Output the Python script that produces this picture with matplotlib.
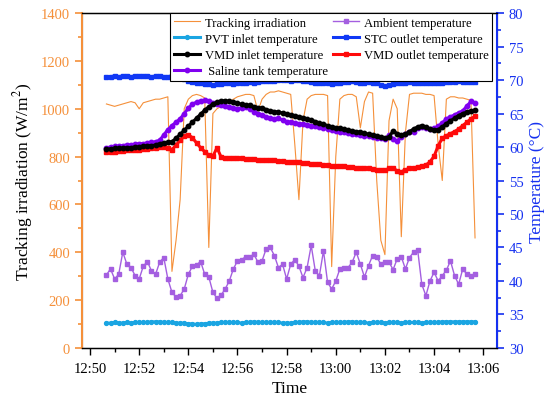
import matplotlib
matplotlib.use('Agg')
import matplotlib.pyplot as plt
import matplotlib.dates as mdates
from matplotlib.ticker import MultipleLocator
import pandas as pd

plt.rcParams['font.family'] = ['Liberation Serif', 'DejaVu Serif']
plt.rcParams['mathtext.fontset'] = 'stix'

# sampled every 10 s from 12:50:40 to 13:05:40
times = pd.date_range('2019-01-01 12:50:40', periods=91, freq='10s')

irradiation = [1020, 1015, 1010, 1015, 1020, 1025, 1030, 1025, 1000, 1025,
               1030, 1035, 1040, 1040, 1045, 1050, 320, 450, 620, 1000,
               1040, 1055, 1060, 1055, 1045, 420, 980, 1000, 1010, 1020,
               1030, 1040, 1050, 1055, 1060, 1060, 1055, 990, 1040, 1060,
               1070, 1070, 1075, 1070, 1065, 1060, 850, 620, 950, 1040,
               1055, 1060, 1060, 1060, 1055, 340, 800, 1040, 1055, 1060,
               1060, 1050, 920, 1030, 1070, 1065, 700, 450, 390, 950,
               1040, 1000, 465, 900, 1060, 1065, 1065, 1065, 1060, 1060,
               1055, 850, 700, 1040, 1050, 1050, 1045, 1045, 1040, 1035,
               460]

pvt_inlet = [33.7, 33.7, 33.8, 33.7, 33.7, 33.8, 33.7, 33.8, 33.8, 33.8,
             33.8, 33.9, 33.9, 33.9, 33.8, 33.8, 33.8, 33.7, 33.7, 33.7,
             33.6, 33.6, 33.5, 33.6, 33.6, 33.7, 33.7, 33.7, 33.8, 33.8,
             33.8, 33.8, 33.8, 33.7, 33.8, 33.8, 33.9, 33.8, 33.8, 33.8,
             33.8, 33.8, 33.8, 33.7, 33.7, 33.7, 33.8, 33.8, 33.9, 33.9,
             33.8, 33.8, 33.8, 33.8, 33.7, 33.8, 33.8, 33.8, 33.8, 33.9,
             33.9, 33.8, 33.8, 33.8, 33.7, 33.8, 33.8, 33.8, 33.7, 33.8,
             33.8, 33.8, 33.7, 33.8, 33.8, 33.8, 33.8, 33.7, 33.8, 33.8,
             33.8, 33.8, 33.9, 33.9, 33.9, 33.9, 33.9, 33.9, 33.9, 33.9,
             33.9]

vmd_inlet = [59.7, 59.7, 59.8, 59.8, 59.8, 59.9, 59.9, 60.0, 60.0, 60.1,
             60.2, 60.2, 60.3, 60.5, 60.6, 60.7, 60.8, 61.3, 61.9, 62.5,
             63.1, 63.7, 64.3, 64.9, 65.5, 66.0, 66.4, 66.7, 66.9, 66.9,
             66.8, 66.7, 66.5, 66.4, 66.3, 66.2, 66.0, 65.9, 65.8, 65.6,
             65.4, 65.3, 65.2, 65.1, 64.9, 64.8, 64.7, 64.5, 64.4, 64.2,
             64.0, 63.8, 63.6, 63.4, 63.2, 63.0, 62.9, 62.8, 62.7, 62.5,
             62.4, 62.3, 62.2, 62.1, 61.9, 61.8, 61.7, 61.5, 61.3, 61.5,
             62.4, 62.0, 61.8, 61.9, 62.3, 62.7, 63.0, 63.2, 63.0, 62.7,
             62.5, 62.6, 63.0, 63.5, 63.9, 64.3, 64.7, 65.0, 65.2, 65.4,
             65.5]

saline_tank = [59.9, 60.0, 60.1, 60.1, 60.2, 60.3, 60.3, 60.4, 60.5, 60.5,
               60.6, 60.7, 60.8, 61.0, 61.8, 62.6, 63.2, 63.7, 64.2, 65.0,
               65.8, 66.4, 66.7, 66.9, 67.0, 66.9, 66.6, 66.4, 66.2, 66.1,
               66.0, 65.8, 65.7, 65.9, 66.0, 65.7, 65.3, 65.0, 64.8, 64.5,
               64.3, 64.2, 64.3, 64.0, 63.8, 63.7, 63.6, 63.5, 63.4, 63.3,
               63.2, 63.1, 63.0, 62.8, 62.7, 62.6, 62.4, 62.3, 62.2, 62.1,
               62.0, 61.9, 61.8, 61.7, 61.6, 61.5, 61.4, 61.3, 61.2, 61.8,
               61.2, 60.9, 61.5, 62.0, 62.2, 62.3, 62.8, 63.0, 62.9, 62.7,
               62.8, 63.1, 63.6, 64.2, 64.5, 64.8, 65.1, 65.4, 66.1, 66.8,
               66.5]

ambient = [40.9, 41.8, 40.3, 41.0, 44.3, 42.5, 42.0, 40.8, 40.3, 42.2,
           42.9, 41.5, 41.0, 42.8, 43.5, 40.3, 38.3, 37.6, 37.8, 38.8,
           41.0, 42.2, 42.4, 42.9, 41.0, 40.6, 38.3, 37.4, 37.9, 38.8,
           40.0, 41.8, 43.0, 43.2, 43.6, 43.6, 44.0, 42.8, 43.0, 44.8,
           45.0, 43.8, 42.0, 42.5, 40.3, 42.5, 43.2, 42.2, 40.5, 42.0,
           45.3, 41.5, 40.8, 44.5, 39.8, 38.8, 40.0, 41.8, 42.0, 42.0,
           42.8, 44.3, 42.5, 40.6, 42.3, 43.8, 43.6, 42.5, 42.8, 42.8,
           41.7, 43.3, 43.6, 41.8, 43.5, 44.3, 44.6, 39.5, 37.8, 40.0,
           41.3, 40.0, 40.8, 41.6, 43.0, 40.8, 39.5, 41.8, 41.0, 40.8,
           41.0]

stc_outlet = [70.5, 70.5, 70.6, 70.5, 70.6, 70.6, 70.5, 70.6, 70.6, 70.6,
              70.6, 70.5, 70.6, 70.6, 70.5, 70.5, 70.6, 70.5, 70.3, 70.1,
              69.9, 69.7, 69.6, 69.5, 69.4, 69.4, 69.3, 69.4, 69.4, 69.5,
              69.5, 69.4, 69.5, 69.6, 69.6, 69.7, 69.6, 69.7, 69.8, 69.8,
              69.9, 69.9, 70.0, 70.0, 70.0, 69.9, 70.0, 70.0, 69.9, 69.8,
              69.7, 69.6, 69.5, 69.5, 69.5, 69.4, 69.5, 69.6, 69.7, 69.7,
              69.8, 69.7, 69.6, 69.6, 69.7, 69.6, 69.5, 69.3, 69.1, 69.2,
              69.4, 69.5, 69.6, 69.6, 69.7, 69.6, 69.5, 69.5, 69.6, 69.6,
              69.5, 69.5, 69.6, 69.7, 69.7, 69.7, 69.8, 69.7, 69.7, 69.7,
              69.7]

vmd_outlet = [59.2, 59.2, 59.3, 59.4, 59.4, 59.5, 59.5, 59.6, 59.6, 59.7,
              59.7, 59.8, 59.9, 60.0, 60.0, 59.9, 59.6, 60.3, 61.0, 61.7,
              61.8, 61.4, 60.6, 59.9, 59.3, 58.8, 58.6, 59.9, 58.5, 58.4,
              58.4, 58.3, 58.3, 58.3, 58.2, 58.2, 58.2, 58.1, 58.1, 58.1,
              58.0, 58.0, 57.9, 57.9, 57.8, 57.8, 57.7, 57.7, 57.6, 57.6,
              57.5, 57.5, 57.4, 57.3, 57.3, 57.2, 57.2, 57.1, 57.1, 57.0,
              57.0, 56.9, 56.9, 56.8, 56.8, 56.7, 56.6, 56.6, 56.5, 56.8,
              56.9, 56.4, 56.3, 56.6, 56.8, 56.9, 57.0, 57.2, 57.3, 57.8,
              58.6, 60.2, 61.3, 61.7, 62.0, 62.3, 62.7, 63.2, 63.7, 64.2,
              64.6]

c_irr = '#F5903A'
c_temp = '#1530F0'

fig = plt.figure(figsize=(5.53, 4.02), dpi=100)
ax1 = fig.add_axes([0.148, 0.132, 0.751, 0.833])
ax2 = ax1.twinx()

l_irr, = ax1.plot(times, irradiation, color=c_irr, lw=0.8)

l_amb, = ax2.plot(times, ambient, color='#A45FE0', lw=1.0, marker='s', ms=3.4)
l_pvt, = ax2.plot(times, pvt_inlet, color='#1AA5E2', lw=2.2, marker='o', ms=2.8)
l_out, = ax2.plot(times, vmd_outlet, color='#FF0A0A', lw=2.2, marker='s', ms=3)
l_sal, = ax2.plot(times, saline_tank, color='#8000F0', lw=2.2, marker='o', ms=3.2)
l_in, = ax2.plot(times, vmd_inlet, color='black', lw=2.2, marker='o', ms=3.2)
l_stc, = ax2.plot(times, stc_outlet, color='#1038F5', lw=2.2, marker='s', ms=2.8)

ax1.set_ylim(0, 1400)
ax2.set_ylim(30, 80)
ax1.set_xlim(pd.Timestamp('2019-01-01 12:49:40'), pd.Timestamp('2019-01-01 13:06:34'))

ax1.xaxis.set_major_locator(mdates.MinuteLocator(byminute=range(0, 60, 2)))
ax1.xaxis.set_minor_locator(mdates.MinuteLocator())
ax1.xaxis.set_major_formatter(mdates.DateFormatter('%H:%M'))
ax1.yaxis.set_major_locator(MultipleLocator(200))
ax1.yaxis.set_minor_locator(MultipleLocator(100))
ax2.yaxis.set_major_locator(MultipleLocator(5))
ax2.yaxis.set_minor_locator(MultipleLocator(2.5))

ax1.tick_params(axis='x', which='major', length=5, width=1, labelsize=10.5, pad=5)
ax1.tick_params(axis='x', which='minor', length=3, width=1)
ax1.tick_params(axis='y', which='major', colors=c_irr, length=5, width=1.2, labelsize=10.5)
ax1.tick_params(axis='y', which='minor', colors=c_irr, length=3, width=1.2)
ax2.tick_params(axis='y', which='major', colors=c_temp, length=5, width=1.2, labelsize=10.5)
ax2.tick_params(axis='y', which='minor', colors=c_temp, length=3, width=1.2)

ax2.spines['left'].set_color(c_irr)
ax2.spines['left'].set_linewidth(1.5)
ax2.spines['right'].set_color(c_temp)
ax2.spines['right'].set_linewidth(1.5)
ax2.spines['top'].set_linewidth(1.0)
ax2.spines['bottom'].set_linewidth(1.0)

ax1.set_xlabel('Time', fontsize=12.5, labelpad=4)
ax1.set_ylabel('Tracking irradiation (W/m$^2$)', fontsize=12.5, labelpad=4)
ax2.set_ylabel('Temperature (\u00b0C)', fontsize=12.5, color=c_temp, labelpad=4)

handles = [l_irr, l_pvt, l_in, l_sal, l_amb, l_stc, l_out]
labels = ['Tracking irradiation', 'PVT inlet temperature', 'VMD inlet temperature',
          ' Saline tank temperature', 'Ambient temperature', 'STC outlet temperature',
          'VMD outlet temperature']
leg = ax2.legend(handles, labels, ncol=2, loc='upper right', bbox_to_anchor=(0.988, 1.0),
                 borderaxespad=0, fontsize=9.1, fancybox=False, framealpha=1,
                 edgecolor='black', handlelength=2.1, handletextpad=0.35,
                 columnspacing=0.4, labelspacing=0.32, borderpad=0.3)
leg.get_frame().set_linewidth(0.8)

fig.savefig('out.png', dpi=100)
